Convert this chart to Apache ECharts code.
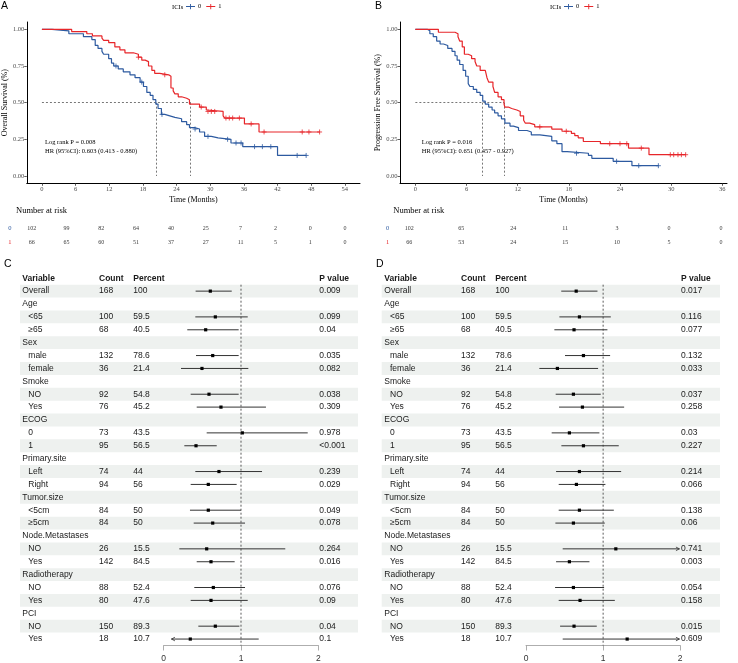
<!DOCTYPE html>
<html>
<head>
<meta charset="utf-8">
<script src="https://cdn.jsdelivr.net/npm/echarts@6/dist/echarts.min.js"></script>
<style>
html, body { margin: 0; padding: 0; background: #fff; }
#main { width: 738px; height: 663px; }
</style>
</head>
<body>
<div id="main"></div>
<script>
// ---- Kaplan-Meier steps (time in months, survival after each drop) ----
var osTime0 = [0, 1.8, 4.8, 7.4, 8.9, 9.5, 10.0, 10.7, 11.0, 11.9, 12.4, 12.8, 13.6, 14.5, 15.7, 16.6, 17.5, 18.1, 18.7, 19.3, 19.8, 20.3, 20.7, 21.3, 21.9, 22.8, 23.7, 24.9, 25.8, 26.3, 27.2, 28.1, 29.0, 30.2, 31.4, 33.7, 35.8, 42.0, 47.1];
var osSurv0 = [1, 0.99, 0.97, 0.95, 0.93, 0.89, 0.87, 0.85, 0.83, 0.80, 0.77, 0.75, 0.73, 0.71, 0.69, 0.67, 0.64, 0.61, 0.57, 0.55, 0.52, 0.49, 0.46, 0.42, 0.41, 0.40, 0.39, 0.37, 0.35, 0.33, 0.32, 0.30, 0.27, 0.26, 0.25, 0.225, 0.20, 0.14, 0.14];
var osCensor0 = [13.2, 17.8, 21.4, 27.3, 29.6, 33.1, 34.6, 35.5, 37.9, 39.3, 40.8, 45.5, 47.1];

var osTime1 = [0, 5.3, 8.0, 9.0, 10.7, 11.0, 11.9, 13.0, 13.9, 14.8, 16.3, 17.2, 17.8, 18.4, 19.0, 19.6, 20.1, 21.0, 22.6, 23.0, 23.4, 23.7, 24.3, 24.9, 25.8, 26.3, 28.1, 29.3, 29.6, 32.3, 32.6, 36.1, 38.7, 49.5];
var osSurv1 = [1, 0.985, 0.97, 0.955, 0.94, 0.925, 0.91, 0.88, 0.86, 0.84, 0.83, 0.81, 0.79, 0.78, 0.75, 0.72, 0.70, 0.69, 0.68, 0.60, 0.58, 0.56, 0.54, 0.53, 0.52, 0.49, 0.47, 0.45, 0.44, 0.41, 0.395, 0.355, 0.30, 0.30];
var osCensor1 = [17.2, 21.9, 28.4, 29.6, 30.2, 30.8, 32.8, 33.4, 34.0, 35.2, 37.3, 39.6, 46.4, 47.6, 49.5];

var pfsTime0 = [0, 1.4, 1.7, 2.1, 2.5, 2.9, 3.3, 3.8, 4.3, 4.65, 4.9, 5.2, 5.6, 5.9, 6.2, 6.4, 6.8, 7.2, 7.6, 7.9, 8.2, 8.6, 9.0, 9.3, 9.7, 10.1, 10.5, 11.1, 11.5, 12.1, 13.1, 13.6, 14.6, 16.0, 16.6, 17.2, 17.8, 20.3, 20.7, 23.2, 25.4, 28.5];
var pfsSurv0 = [1, 0.99, 0.97, 0.95, 0.92, 0.90, 0.89, 0.87, 0.85, 0.82, 0.79, 0.76, 0.72, 0.68, 0.63, 0.61, 0.59, 0.57, 0.55, 0.51, 0.49, 0.47, 0.45, 0.43, 0.41, 0.39, 0.36, 0.34, 0.33, 0.31, 0.30, 0.28, 0.27, 0.24, 0.22, 0.166, 0.155, 0.14, 0.12, 0.10, 0.07, 0.07];
var pfsCensor0 = [18.9, 23.6, 26.2, 28.5];

var pfsTime1 = [0, 2.7, 4.65, 5.0, 5.2, 5.5, 5.75, 6.2, 6.6, 7.0, 7.2, 7.6, 8.2, 8.4, 8.6, 9.1, 9.3, 9.7, 10.1, 10.4, 10.5, 10.9, 11.3, 11.9, 12.3, 12.7, 12.9, 13.4, 14.0, 16.0, 17.2, 18.3, 18.7, 19.1, 19.7, 21.7, 25.0, 27.4, 31.7];
var pfsSurv1 = [1, 0.98, 0.97, 0.95, 0.92, 0.88, 0.83, 0.82, 0.80, 0.78, 0.75, 0.72, 0.71, 0.67, 0.64, 0.61, 0.57, 0.54, 0.52, 0.49, 0.47, 0.46, 0.45, 0.44, 0.41, 0.38, 0.36, 0.35, 0.335, 0.32, 0.305, 0.29, 0.275, 0.26, 0.235, 0.22, 0.19, 0.145, 0.145];
var pfsCensor1 = [14.6, 17.7, 22.8, 24.0, 24.8, 26.5, 29.9, 30.3, 30.8, 31.2, 31.7];

var osMedian = [20.4, 26.5];
var pfsMedian = [7.9, 10.4];

var osTicks = [0, 6, 12, 18, 24, 30, 36, 42, 48, 54];
var pfsTicks = [0, 6, 12, 18, 24, 30, 36];
var survTicks = [0, 0.25, 0.5, 0.75, 1];

// ---- number at risk ----
var osRisk0 = [102, 99, 82, 64, 40, 25, 7, 2, 0, 0];
var osRisk1 = [66, 65, 60, 51, 37, 27, 11, 5, 1, 0];
var pfsRisk0 = [102, 65, 24, 11, 3, 0, 0];
var pfsRisk1 = [66, 53, 24, 15, 10, 5, 0];

// ---- forest tables ----
var forestRows = ['Overall', 'Age', '<65', '\u226565', 'Sex', 'male', 'female', 'Smoke', 'NO', 'Yes', 'ECOG', '0', '1',
    'Primary.site', 'Left', 'Right', 'Tumor.size', '<5cm', '\u22655cm', 'Node.Metastases', 'NO', 'Yes',
    'Radiotherapy', 'NO', 'Yes', 'PCI', 'NO', 'Yes'];
var rowIndent = [0, 0, 1, 1, 0, 1, 1, 0, 1, 1, 0, 1, 1, 0, 1, 1, 0, 1, 1, 0, 1, 1, 0, 1, 1, 0, 1, 1];
var forestCount = ['168', '', '100', '68', '', '132', '36', '', '92', '76', '', '73', '95', '', '74', '94', '', '84', '84', '', '26', '142', '', '88', '80', '', '150', '18'];
var forestPercent = ['100', '', '59.5', '40.5', '', '78.6', '21.4', '', '54.8', '45.2', '', '43.5', '56.5', '', '44', '56', '', '50', '50', '', '15.5', '84.5', '', '52.4', '47.6', '', '89.3', '10.7'];

var osHR = [0.603, null, 0.668, 0.543, null, 0.634, 0.495, null, 0.586, 0.741, null, 1.017, 0.418, null, 0.715, 0.577, null, 0.577, 0.634, null, 0.556, 0.612, null, 0.642, 0.612, null, 0.668, 0.344];
var osLow = [0.413, null, 0.409, 0.305, null, 0.418, 0.224, null, 0.349, 0.427, null, 0.556, 0.267, null, 0.409, 0.349, null, 0.34, 0.388, null, 0.202, 0.427, null, 0.396, 0.349, null, 0.448, 0.08];
var osHigh = [0.880, null, 1.087, 0.97, null, 0.97, 1.095, null, 0.97, 1.323, null, 1.863, 0.686, null, 1.272, 0.944, null, 0.999, 1.052, null, 1.573, 0.918, null, 1.052, 1.087, null, 0.979, 1.229];
var osP = ['0.009', '', '0.099', '0.04', '', '0.035', '0.082', '', '0.038', '0.309', '', '0.978', '<0.001', '', '0.239', '0.029', '', '0.049', '0.078', '', '0.264', '0.016', '', '0.076', '0.09', '', '0.04', '0.1'];

var pfsHR = [0.651, null, 0.693, 0.623, null, 0.745, 0.407, null, 0.615, 0.732, null, 0.563, 0.745, null, 0.693, 0.654, null, 0.693, 0.615, null, 1.165, 0.563, null, 0.615, 0.701, null, 0.623, 1.312];
var pfsLow = [0.457, null, 0.433, 0.368, null, 0.506, 0.173, null, 0.385, 0.429, null, 0.333, 0.459, null, 0.39, 0.424, null, 0.424, 0.381, null, 0.476, 0.39, null, 0.377, 0.424, null, 0.442, 0.476];
var pfsHigh = [0.927, null, 1.1, 1.056, null, 1.091, 0.935, null, 0.97, 1.273, null, 0.952, 1.203, null, 1.234, 1.03, null, 1.139, 1.022, null, 2.9, 0.823, null, 1.013, 1.152, null, 0.918, 3.4];
var pfsP = ['0.017', '', '0.116', '0.077', '', '0.132', '0.033', '', '0.037', '0.258', '', '0.03', '0.227', '', '0.214', '0.066', '', '0.138', '0.06', '', '0.741', '0.003', '', '0.054', '0.158', '', '0.015', '0.609'];

var BLUE = '#2d5aa0';
var RED = '#e7262a';
var SERIF = '"Liberation Serif", "Times New Roman", serif';
var SANS = '"Liberation Sans", Arial, sans-serif';
var BAND = '#eef1ef';
var CI_MIN = 0.1, CI_MAX = 1.99;

function pairs(t, s) {
    return t.map(function (v, i) { return [v, s[i]]; });
}

function survAt(t, s, x) {
    var v = s[0];
    for (var i = 0; i < t.length; i++) {
        if (t[i] <= x) v = s[i];
    }
    return v;
}

function censorPts(c, t, s) {
    return c.map(function (x) { return [x, survAt(t, s, x)]; });
}

var crossIcon = 'path://M0,4.5L9,4.5M4.5,0L4.5,9';

function kmSeries(grid, name, t, s, c, color) {
    return [{
        type: 'line', name: name, xAxisIndex: grid, yAxisIndex: grid,
        step: 'end', symbol: 'none', data: pairs(t, s),
        lineStyle: { color: color, width: 1.2 }, itemStyle: { color: color },
        silent: true, z: 3
    }, {
        type: 'scatter', name: name, xAxisIndex: grid, yAxisIndex: grid,
        symbol: crossIcon, symbolSize: 5, data: censorPts(c, t, s),
        itemStyle: { color: 'none', borderColor: color, borderWidth: 1 },
        silent: true, z: 4
    }];
}

function medianSeries(grid, med) {
    var mx = Math.max.apply(null, med);
    var segs = [{ coords: [[0, 0.5], [mx, 0.5]] }];
    med.forEach(function (m) { segs.push({ coords: [[m, 0.5], [m, 0]] }); });
    return {
        type: 'lines', coordinateSystem: 'cartesian2d', xAxisIndex: grid, yAxisIndex: grid,
        data: segs, silent: true, z: 2,
        lineStyle: { color: '#555', width: 0.8, type: [2, 2], opacity: 1 }
    };
}

function riskSeries(grid, ticks, r0, r1) {
    var data = [];
    ticks.forEach(function (t, i) {
        data.push([t, '0', r0[i]]);
        data.push([t, '1', r1[i]]);
    });
    return {
        type: 'scatter', xAxisIndex: grid, yAxisIndex: grid, symbolSize: 0, silent: true,
        data: data,
        label: {
            show: true, position: 'inside', fontFamily: SERIF, fontSize: 6, color: '#000',
            formatter: function (p) { return String(p.data[2]); }
        }
    };
}

function kmXAxis(grid, min, max, ticks) {
    return {
        gridIndex: grid, type: 'value', min: min, max: max,
        axisLine: { show: true, onZero: false, lineStyle: { color: '#000', width: 1 } },
        axisTick: { show: true, customValues: ticks, length: 2.5, lineStyle: { color: '#333', width: 0.8 } },
        axisLabel: { customValues: ticks, fontFamily: SERIF, fontSize: 6.5, color: '#4d4d4d', margin: 2.5 },
        splitLine: { show: false },
        name: 'Time (Months)', nameLocation: 'middle', nameGap: 13,
        nameTextStyle: { fontFamily: SERIF, fontSize: 8, color: '#000' }
    };
}

function kmYAxis(grid, name) {
    return {
        gridIndex: grid, type: 'value', min: -0.05, max: 1.05,
        axisLine: { show: true, onZero: false, lineStyle: { color: '#000', width: 1 } },
        axisTick: { show: true, customValues: survTicks, length: 2.5, lineStyle: { color: '#333', width: 0.8 } },
        axisLabel: {
            customValues: survTicks, fontFamily: SERIF, fontSize: 6.5, color: '#4d4d4d', margin: 2.5,
            formatter: function (v) { return v.toFixed(2); }
        },
        splitLine: { show: false },
        name: name, nameLocation: 'middle', nameGap: 16, nameRotate: 90,
        nameTextStyle: { fontFamily: SERIF, fontSize: 8, color: '#000' }
    };
}

function riskAxes(grid, min, max) {
    return {
        x: { gridIndex: grid, type: 'value', min: min, max: max, show: false },
        y: {
            gridIndex: grid, type: 'category', data: ['0', '1'], inverse: true,
            axisLine: { show: false }, axisTick: { show: false }, splitLine: { show: false },
            axisLabel: {
                margin: 4.5, fontFamily: SERIF, fontSize: 6.5,
                formatter: function (v) { return '{c' + v + '|' + v + '}'; },
                rich: { c0: { color: BLUE, fontFamily: SERIF, fontSize: 6.5 }, c1: { color: RED, fontFamily: SERIF, fontSize: 6.5 } }
            }
        }
    };
}

function forestAxes(grid) {
    return {
        x: {
            gridIndex: grid, type: 'value', min: 0, max: 2, interval: 1,
            axisLine: { show: true, onZero: false, lineStyle: { color: '#999', width: 0.8 } },
            axisTick: { show: true, length: 5, lineStyle: { color: '#999', width: 0.8 } },
            axisLabel: { fontFamily: SANS, fontSize: 8.5, color: '#333', margin: 8.5 },
            splitLine: { show: false }
        },
        y: { gridIndex: grid, type: 'value', min: -0.5, max: 28.5, inverse: true, show: false }
    };
}

function txt(s, x, y, opt) {
    return {
        type: 'text', silent: true,
        style: {
            text: s, x: x, y: y, fill: (opt && opt.fill) || '#1a1a1a',
            fontFamily: (opt && opt.family) || SANS, fontSize: (opt && opt.size) || 8.5,
            fontWeight: (opt && opt.bold) ? 'bold' : 'normal',
            verticalAlign: 'middle', align: 'left'
        }
    };
}

function forestSeries(grid, cols, hr, lo, hi, pv) {
    var rows = forestRows.map(function (r, i) { return [0, i + 1]; });
    var body = {
        type: 'custom', xAxisIndex: grid, yAxisIndex: grid, clip: false, silent: true,
        data: rows, encode: { x: 0, y: 1 }, z: 2,
        renderItem: function (params, api) {
            var i = params.dataIndex;
            var row = i + 1;
            var yc = api.coord([0, row])[1];
            var rh = api.size([0, 1])[1];
            var kids = [];
            if (i % 2 === 0) {
                kids.push({ type: 'rect', shape: { x: cols.bandL, y: yc - rh / 2, width: cols.bandR - cols.bandL, height: rh }, style: { fill: BAND } });
            }
            kids.push(txt(forestRows[i], rowIndent[i] ? cols.sub : cols.name, yc));
            kids.push(txt(forestCount[i], cols.count, yc));
            kids.push(txt(forestPercent[i], cols.pct, yc));
            kids.push(txt(pv[i], cols.p, yc));
            if (hr[i] !== null) {
                var l = Math.max(lo[i], CI_MIN), h = Math.min(hi[i], CI_MAX);
                var pl = api.coord([l, row]), ph = api.coord([h, row]), pc = api.coord([hr[i], row]);
                var ls = { stroke: '#333', lineWidth: 1 };
                kids.push({ type: 'line', shape: { x1: pl[0], y1: yc, x2: ph[0], y2: yc }, style: ls });
                if (lo[i] < CI_MIN) {
                    kids.push({ type: 'polyline', shape: { points: [[pl[0] + 3.5, yc - 1.8], [pl[0], yc], [pl[0] + 3.5, yc + 1.8]] }, style: { stroke: '#333', lineWidth: 0.8, fill: 'none' } });
                }
                if (hi[i] > CI_MAX) {
                    kids.push({ type: 'polyline', shape: { points: [[ph[0] - 3.5, yc - 1.8], [ph[0], yc], [ph[0] - 3.5, yc + 1.8]] }, style: { stroke: '#333', lineWidth: 0.8, fill: 'none' } });
                }
                kids.push({ type: 'rect', shape: { x: pc[0] - 1.6, y: yc - 1.6, width: 3.2, height: 3.2 }, style: { fill: '#000' } });
            }
            return { type: 'group', children: kids };
        }
    };
    var head = {
        type: 'custom', xAxisIndex: grid, yAxisIndex: grid, clip: false, silent: true,
        data: [[1, 0]], encode: { x: 0, y: 1 }, z: 3,
        renderItem: function (params, api) {
            var yh = api.coord([0, 0])[1];
            var top = api.coord([1, 0.5]), bot = api.coord([1, 28.5]);
            return {
                type: 'group', children: [
                    { type: 'line', shape: { x1: top[0], y1: top[1], x2: bot[0], y2: bot[1] }, style: { stroke: '#333', lineWidth: 0.8, lineDash: [2, 2] } },
                    txt('Variable', cols.name, yh, { bold: true }),
                    txt('Count', cols.count, yh, { bold: true }),
                    txt('Percent', cols.pct, yh, { bold: true }),
                    txt('P value', cols.p, yh, { bold: true })
                ]
            };
        }
    };
    return [body, head];
}

var colsC = { bandL: 20, bandR: 358, name: 22.3, sub: 28.3, count: 99, pct: 133.3, p: 319.3 };
var colsD = { bandL: 381.7, bandR: 720, name: 384.3, sub: 390, count: 461, pct: 495.3, p: 681 };

var rA = riskAxes(2, -2.7, 56.7);
var rB = riskAxes(3, -1.8, 37.8);
var fC = forestAxes(4);
var fD = forestAxes(5);

var legendIcon = 'path://M0,4.4h12v1.2h-12z M5.4,1.5h1.2v7h-1.2z';

function kmLegend(left) {
    return {
        left: left, top: 3, orient: 'horizontal', padding: 0,
        itemWidth: 9, itemHeight: 7, itemGap: 5, selectedMode: false,
        icon: legendIcon, data: ['0', '1'],
        textStyle: { fontFamily: SERIF, fontSize: 6.5, color: '#000', padding: [0, 0, 0, -2] }
    };
}

var chart = echarts.init(document.getElementById('main'), null, { renderer: 'canvas' });

var series = []
    .concat(kmSeries(0, '0', osTime0, osSurv0, osCensor0, BLUE))
    .concat(kmSeries(0, '1', osTime1, osSurv1, osCensor1, RED))
    .concat([medianSeries(0, osMedian)])
    .concat(kmSeries(1, '0', pfsTime0, pfsSurv0, pfsCensor0, BLUE))
    .concat(kmSeries(1, '1', pfsTime1, pfsSurv1, pfsCensor1, RED))
    .concat([medianSeries(1, pfsMedian)])
    .concat([riskSeries(2, osTicks, osRisk0, osRisk1), riskSeries(3, pfsTicks, pfsRisk0, pfsRisk1)])
    .concat(forestSeries(4, colsC, osHR, osLow, osHigh, osP))
    .concat(forestSeries(5, colsD, pfsHR, pfsLow, pfsHigh, pfsP));

var option = {
    animation: false,
    backgroundColor: '#fff',
    legend: [kmLegend(186), kmLegend(564)],
    grid: [
        { left: 24, top: 22, width: 336, height: 161.3 },
        { left: 400, top: 22, width: 327, height: 161.3 },
        { left: 16, top: 220.7, width: 344.7, height: 29.4 },
        { left: 393.7, top: 220.7, width: 342.9, height: 29.4 },
        { left: 163.7, top: 271.8, width: 154.6, height: 377 },
        { left: 526, top: 271.8, width: 154.2, height: 377 }
    ],
    xAxis: [
        kmXAxis(0, -2.7, 56.7, osTicks),
        kmXAxis(1, -1.8, 36.55, pfsTicks),
        rA.x, rB.x, fC.x, fD.x
    ],
    yAxis: [
        kmYAxis(0, 'Overall Survival (%)'),
        kmYAxis(1, 'Progression Free Survival (%)'),
        rA.y, rB.y, fC.y, fD.y
    ],
    graphic: [
        txt('A', 1, 6, { size: 10.5, fill: '#000' }),
        txt('B', 375, 6, { size: 10.5, fill: '#000' }),
        txt('C', 4, 264.5, { size: 10.5, fill: '#000' }),
        txt('D', 376, 264.5, { size: 10.5, fill: '#000' }),
        txt('ICIs', 172, 7, { family: SERIF, size: 6.5, fill: '#000' }),
        txt('ICIs', 550, 7, { family: SERIF, size: 6.5, fill: '#000' }),
        txt('Log rank P = 0.008', 45, 142.7, { family: SERIF, size: 6.5, fill: '#000' }),
        txt('HR (95%CI): 0.603 (0.413 - 0.880)', 45, 151.7, { family: SERIF, size: 6.5, fill: '#000' }),
        txt('Log rank P = 0.016', 421.7, 142.7, { family: SERIF, size: 6.5, fill: '#000' }),
        txt('HR (95%CI): 0.651 (0.457 - 0.927)', 421.7, 151.7, { family: SERIF, size: 6.5, fill: '#000' }),
        txt('Number at risk', 16, 211, { family: SERIF, size: 8.5, fill: '#000' }),
        txt('Number at risk', 393.3, 211, { family: SERIF, size: 8.5, fill: '#000' })
    ],
    series: series
};

chart.setOption(option);
</script>
</body>
</html>
